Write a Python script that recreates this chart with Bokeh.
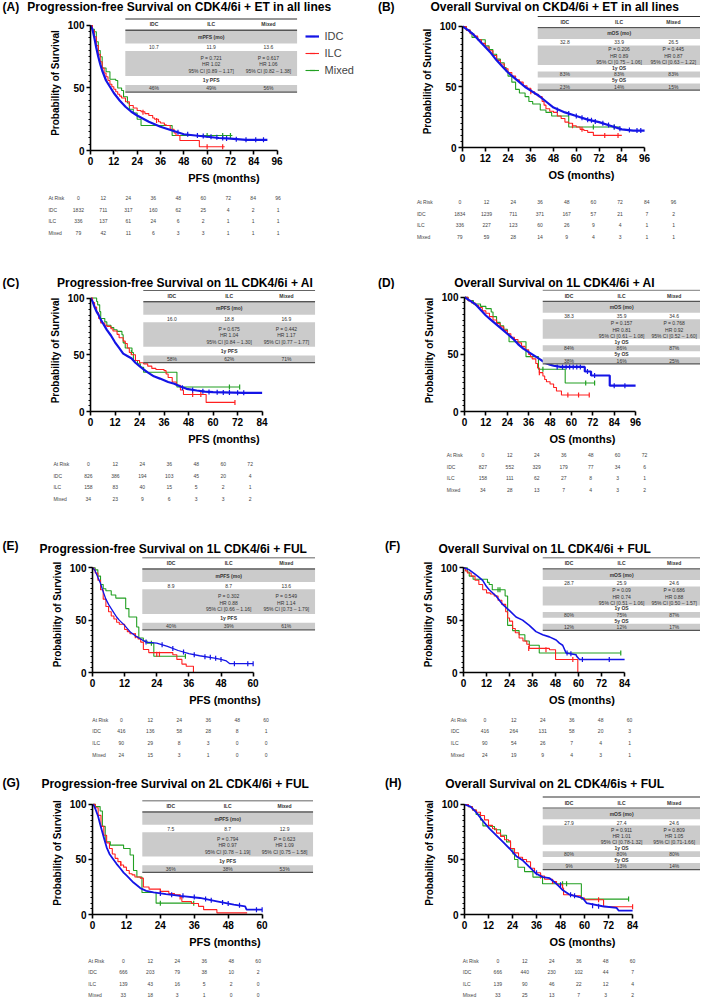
import math
from bokeh.plotting import figure
from bokeh.models import Range1d, Label, BoxAnnotation, Legend, LegendItem, FixedTicker
from bokeh.layouts import column, row
from bokeh.embed import file_html
from bokeh.resources import INLINE

GROUPS = ["IDC", "ILC", "Mixed"]

# ---------------- Panel A ----------------
A_TITLE = "Progression-free Survival on CDK4/6i + ET in all lines"
A_XLABEL = "PFS (months)"
A_XTICKS = [0, 12, 24, 36, 48, 60, 72, 84, 96]
A_IDC = [(0,100),(1,97),(2,90),(3,82),(4,75),(5,69),(6,64),(8,56),(10,51),(12,46),(15,40),(18,35),(21,31),(24,28),(30,23),(36,19),(42,16),(48,13),(54,12),(60,11),(66,10),(72,9.5),(80,8.5),(91,8.5)]
A_ILC = [(0,100),(1,96),(2,91),(3,84),(4,77),(5,71),(6,66),(7,62),(8,59),(9,56),(10,53),(11,51),(12,49),(13,47),(14,45),(15,43.5),(16,42),(18,39),(20,36),(22,34),(24,32),(26,31),(28,29.5),(30,28),(32,26),(33,25),(35,23),(36,22),(38,20.5),(39,20),(41,17),(43,14),(44,12),(46,8),(56,3),(69,3)]
A_MIX = [(0,100),(1,97),(2,95),(3,87),(4,80),(5,75),(6,66),(8,63),(10,57),(13,56),(14,50),(16,48),(17,43),(19,38),(20,33),(22,30),(24,25),(26,20),(42,12),(73,12)]
A_IDC_CENS = [(45,14.5),(50,13),(55,12),(58,11.5),(62,11),(65,10.5),(68,10),(70,9.5),(75,9),(80,8.5),(85,8.5),(89,8.5)]
A_ILC_CENS = [(27,30.5),(34,24),(60,3),(68,3)]
A_MIX_CENS = [(60,12),(68,12),(72,12)]
A_HEAD = "mPFS (mo)"
A_MEDIANS = ["10.7", "11.9", "13.6"]
A_ILC_TEST = ["P = 0.721", "HR 1.02", "95% CI [0.89 \u2013 1.17]"]
A_MIX_TEST = ["P = 0.617", "HR 1.06", "95% CI [0.82 \u2013 1.38]"]
A_RATE_LABELS = ["1y PFS"]
A_RATES = [["46%", "49%", "56%"]]
A_RISK_T = [0, 12, 24, 36, 48, 60, 72, 84, 96]
A_RISK_IDC = [1832, 711, 317, 160, 62, 25, 4, 2, 1]
A_RISK_ILC = [336, 137, 61, 24, 6, 2, 1, 1, 1]
A_RISK_MIX = [79, 42, 11, 6, 3, 3, 1, 1, 1]

# ---------------- Panel B ----------------
B_TITLE = "Overall Survival on CKD4/6i + ET in all lines"
B_XLABEL = "OS (months)"
B_XTICKS = [0, 12, 24, 36, 48, 60, 72, 84, 96]
B_IDC = [(0,100),(3,97),(6,93),(9,88),(12,83),(15,78),(18,72),(21,67),(24,62),(27,58),(30,54),(33,50),(36,47),(40,43),(44,38),(48,33),(54,29),(60,26),(66,23),(72,21),(78,18),(84,15),(90,14),(96,14)]
B_ILC = [(0,100),(2,97),(4,94),(6,92),(8,89),(10,86),(12,83),(14,80),(16,76),(18,72),(20,69),(22,65),(24,62),(26,59),(28,56),(30,54),(32,51),(34,49),(36,46),(38,44),(40,42),(42,38),(43,35),(44,32),(46,30),(48,29),(50,26),(52,24),(54,21),(56,20),(58,18),(60,17),(62,15),(64,14),(66,12.5),(69,10),(84,10)]
B_MIX = [(0,100),(2,97),(4,95),(5,91),(8,89),(12,84),(14,81),(16,77),(18,73),(20,70),(22,66),(23,63),(24,59),(26,54),(28,48),(30,45),(33,42),(35,38),(37,36),(41,31),(44,29),(47,26),(56,17),(83,17)]
B_IDC_CENS = [(50,31),(56,28),(60,26),(63,24.5),(66,23),(68,22.5),(70,21.5),(74,20),(77,18.5),(80,17),(83,15.5),(88,14.5),(92,14),(94,14)]
B_ILC_CENS = [(36,46),(58,18),(63,15),(75,10),(82,10)]
B_MIX_CENS = [(69,17),(80,17)]
B_HEAD = "mOS (mo)"
B_MEDIANS = ["32.8", "33.9", "26.5"]
B_ILC_TEST = ["P = 0.206", "HR 0.89", "95% CI [0.75 \u2013 1.06]"]
B_MIX_TEST = ["P = 0.445", "HR 0.87", "95% CI [0.63 \u2013 1.22]"]
B_RATE_LABELS = ["1y OS", "5y OS"]
B_RATES = [["83%", "83%", "83%"], ["23%", "14%", "15%"]]
B_RISK_T = [0, 12, 24, 36, 48, 60, 72, 84, 96]
B_RISK_IDC = [1834, 1239, 711, 371, 167, 57, 21, 7, 2]
B_RISK_ILC = [336, 227, 123, 60, 26, 9, 4, 1, 1]
B_RISK_MIX = [79, 59, 28, 14, 9, 4, 3, 1, 1]

# ---------------- Panel C ----------------
C_TITLE = "Progression-free Survival on 1L CDK4/6i + AI"
C_XLABEL = "PFS (months)"
C_XTICKS = [0, 12, 24, 36, 48, 60, 72, 84]
C_IDC = [(0,100),(1,97),(2,92),(3,88),(4,85),(5,81),(6,78),(8,72),(10,67),(12,61),(14,56),(16,51),(18,49),(20,47),(22,43),(24,40),(26,37),(28,34.5),(31,31),(34,29),(38,26),(41,24.5),(44,22),(47,20),(52,18.5),(56,17.5),(60,17),(75,16.5),(84,16.5)]
C_ILC = [(0,100),(1,96),(2,92),(3,87),(4,82),(5,78),(7,76),(8,75),(10,73),(11,71),(13,68),(14,65),(16,62),(17,60),(18,56),(19,52),(20,50),(22,45),(24,43),(26,42),(28,40),(30,38),(32,37),(36,36),(37,33),(38,30),(40,26),(42,23),(44,19),(45.5,15),(56.6,8),(70.7,8)]
C_MIX = [(0,100),(3,97),(3.5,94),(4.5,88),(5,82),(7,79),(8,76),(10,74),(11.4,72),(13,70.6),(15.4,67.7),(16,60.5),(17,56),(20.3,52),(21,45),(23,42),(24.4,39),(26,34.6),(42.3,21.6),(73,21.6)]
C_IDC_CENS = [(45,21),(50,19),(55,17.8),(58,17.2),(62,17),(65,16.8),(68,16.7),(72,16.5),(75,16.5)]
C_ILC_CENS = [(50,15),(54,15),(70.7,8)]
C_MIX_CENS = [(20,52),(68,21.6),(73,21.6)]
C_HEAD = "mPFS (mo)"
C_MEDIANS = ["16.0", "18.8", "16.9"]
C_ILC_TEST = ["P = 0.675", "HR 1.04", "95% CI [0.84 \u2013 1.30]"]
C_MIX_TEST = ["P = 0.442", "HR 1.17", "95% CI [0.77 \u2013 1.77]"]
C_RATE_LABELS = ["1y PFS"]
C_RATES = [["58%", "62%", "71%"]]
C_RISK_T = [0, 12, 24, 36, 48, 60, 72]
C_RISK_IDC = [826, 386, 194, 103, 45, 20, 4]
C_RISK_ILC = [158, 83, 40, 15, 5, 2, 1]
C_RISK_MIX = [34, 23, 9, 6, 3, 3, 2]

# ---------------- Panel D ----------------
D_TITLE = "Overall Survival on 1L CDK4/6i + AI"
D_XLABEL = "OS (months)"
D_XTICKS = [0, 12, 24, 36, 48, 60, 72, 84, 96]
D_IDC = [(0,100),(3,97),(6,94),(9,89),(12,84),(15,80),(18,76),(21,72),(24,68),(27,64),(30,59),(33,55),(36,52),(38,50),(40,48),(42,46),(44,44),(46,42),(48,41),(50,40),(54,39),(67.5,39),(67.5,35),(71,35),(71,31.5),(81.5,31.5),(81.5,22.6),(96,22.6)]
D_ILC = [(0,100),(2,97),(4,95),(6,93),(8,91),(10,88),(12,86),(14,83),(16,80),(18,77),(20,74),(22,71),(24,68),(26,65),(28,63),(30,60),(32,57),(34,54),(36,50),(37,48),(38,46),(40,42),(41,38),(42,34),(44,31),(45,28),(46,26),(48,24),(50,21),(51.6,18),(54.4,14.4),(70,14.4)]
D_MIX = [(0,100),(2,97),(5,94),(9,92),(12,90),(15,87),(16,83),(18,78),(20,75),(22,72),(24,68),(25,61),(34.5,48),(41.5,37),(56.5,25),(73,25)]
D_IDC_CENS = [(52,39),(55,39),(57,39),(59,39),(61,39),(63,39),(65,39),(69,35),(73,31.5),(84,22.6),(90,22.6)]
D_ILC_CENS = [(42,34),(58,14.4),(64,14.4),(70,14.4)]
D_MIX_CENS = [(44,37),(68,25),(73,25)]
D_HEAD = "mOS (mo)"
D_MEDIANS = ["38.3", "35.9", "34.6"]
D_ILC_TEST = ["P = 0.157", "HR 0.81", "95% CI [0.61 \u2013 1.08]"]
D_MIX_TEST = ["P = 0.768", "HR 0.92", "95% CI [0.52 \u2013 1.60]"]
D_RATE_LABELS = ["1y OS", "5y OS"]
D_RATES = [["84%", "86%", "87%"], ["38%", "16%", "25%"]]
D_RISK_T = [0, 12, 24, 36, 48, 60, 72]
D_RISK_IDC = [827, 552, 329, 179, 77, 34, 6]
D_RISK_ILC = [158, 111, 62, 27, 8, 3, 1]
D_RISK_MIX = [34, 28, 13, 7, 4, 3, 2]

# ---------------- Panel E ----------------
E_TITLE = "Progression-free Survival on 1L CDK4/6i + FUL"
E_XLABEL = "PFS (months)"
E_XTICKS = [0, 12, 24, 36, 48, 60]
E_IDC = [(0,100),(0.5,99),(1,97),(2,91),(3,85),(4,77),(5,70),(6,65),(7,61),(8,57),(9,53),(10,50),(12,45),(14,39),(16,35),(18,32),(20,29),(24,28),(28,25),(32,21),(36,18),(40,16),(45,14),(48,12.5),(50,11),(51.3,8.4),(60,8.4)]
E_ILC = [(0,100),(0.5,98),(1,95),(2,88),(3,79),(4,70),(5,63),(6,58),(7,54),(8,51),(9,48),(10,46),(12,41),(13,39),(14,37),(16,34),(17,32),(18,29),(19,22),(21,19),(30,17),(31.5,12.5),(33.4,8),(35,6),(37.7,0)]
E_MIX = [(0,100),(1,98),(2,92),(3,84),(4,80),(5,78),(7,74),(8.7,71),(12.4,61),(13.6,53),(16.5,43.5),(17.3,33),(19,30),(20.4,28),(22.9,15.5),(34.7,15.5)]
E_IDC_CENS = [(20,29),(26,26.5),(30,23),(34,19.5),(38,17),(42,15),(44,14.5),(46,13.5),(48,12.5),(53,8.4),(58,8.4),(60,8.4)]
E_ILC_CENS = [(16,35),(24,17.5),(25,17.5)]
E_MIX_CENS = [(22,28),(34.7,15.5)]
E_HEAD = "mPFS (mo)"
E_MEDIANS = ["8.9", "8.7", "13.6"]
E_ILC_TEST = ["P = 0.302", "HR 0.88", "95% CI [0.66 \u2013 1.16]"]
E_MIX_TEST = ["P = 0.549", "HR 1.14", "95% CI [0.73 \u2013 1.79]"]
E_RATE_LABELS = ["1y PFS"]
E_RATES = [["40%", "39%", "61%"]]
E_RISK_T = [0, 12, 24, 36, 48, 60]
E_RISK_IDC = [416, 136, 58, 28, 8, 1]
E_RISK_ILC = [90, 29, 8, 3, 0, 0]
E_RISK_MIX = [24, 15, 3, 1, 0, 0]

# ---------------- Panel F ----------------
F_TITLE = "Overall Survival on 1L CDK4/6i + FUL"
F_XLABEL = "OS (months)"
F_XTICKS = [0, 12, 24, 36, 48, 60, 72, 84]
F_IDC = [(0,100),(3,98),(6,94),(8,91),(10,88),(12,82),(13.4,79),(17,73),(20.4,65),(24,59),(27.4,53),(30.8,50),(34.3,45),(37.8,39),(41.3,36),(44.8,34),(48.3,31),(50,28),(51.7,26),(53.5,18.6),(58.7,17),(59,15.5),(60.5,12.4),(84,12.4)]
F_ILC = [(0,100),(1,97),(2,95),(4,92),(6,88),(8,84),(10,79),(12,76),(14,75),(16,73),(18,69),(20,65),(22,58),(23,52),(24,49),(25.6,42),(27,38),(29,33),(31,30),(33,27),(34.3,23),(44.8,21.7),(48,12.4),(59.6,12.4),(59.6,0)]
F_MIX = [(0,100),(2,96),(3,92),(5,89),(12.5,86),(13.4,84),(15,79),(21.7,73),(23,45),(25.6,40),(29,36),(32,30),(34.3,26),(39.5,18.6),(82,18.6)]
F_IDC_CENS = [(54,18.6),(56,18),(62,12.4),(76,12.4)]
F_ILC_CENS = [(34,23),(43,21.7),(57,12.4)]
F_MIX_CENS = [(18,79),(19,79),(82,18.6)]
F_HEAD = "mOS (mo)"
F_MEDIANS = ["28.7", "25.9", "24.6"]
F_ILC_TEST = ["P = 0.09", "HR 0.74", "95% CI [0.51 \u2013 1.06]"]
F_MIX_TEST = ["P = 0.686", "HR 0.88", "95% CI [0.50 \u2013 1.57]"]
F_RATE_LABELS = ["1y OS", "5y OS"]
F_RATES = [["80%", "75%", "87%"], ["12%", "12%", "17%"]]
F_RISK_T = [0, 12, 24, 36, 48, 60]
F_RISK_IDC = [416, 264, 131, 58, 20, 3]
F_RISK_ILC = [90, 54, 26, 7, 4, 1]
F_RISK_MIX = [24, 19, 9, 4, 3, 1]

# ---------------- Panel G ----------------
G_TITLE = "Progression-free Survival on 2L CDK4/6i + FUL"
G_XLABEL = "PFS (months)"
G_XTICKS = [0, 12, 24, 36, 48, 60]
G_IDC = [(0,100),(0.5,99),(1,96),(2,89),(2.7,82),(4,70),(5,61),(6,55),(7.4,50),(8.5,46),(9.8,42),(11,38),(12.2,35),(14.5,29),(16.9,24),(19,21.5),(21.6,20),(26,18.5),(31,17),(38,15),(44,12),(50,9),(54,7.4),(54.5,4.4),(60,4.4)]
G_ILC = [(0,100),(1,97),(2,90),(3,80),(4,72),(5,65),(6,60),(7,55),(8,51),(9,48),(10,45),(11,43),(12,40),(13,37),(14,36),(15,34),(16.9,33),(18,25),(20,23),(24,21),(27,19),(29,18),(31,16),(31.6,11.8),(35,10),(37.5,7.4),(39.3,4.4),(44,1.5),(54.7,1.5)]
G_MIX = [(0,100),(1,98),(2.7,94),(3.5,80),(4.5,66),(6.3,63),(11,60),(13.3,54),(14.5,40),(15.7,34),(17.5,20),(22.5,10.3),(35.8,10.3)]
G_IDC_CENS = [(24,19),(28,18),(32,17),(36,16),(40,14),(42,13),(46,11),(48,10),(52,8.5),(58,4.4),(60,4.4)]
G_ILC_CENS = [(10,46),(24,21),(31,16)]
G_MIX_CENS = [(24,10.3),(35.8,10.3)]
G_HEAD = "mPFS (mo)"
G_MEDIANS = ["7.5", "8.7", "12.9"]
G_ILC_TEST = ["P = 0.794", "HR 0.97", "95% CI [0.78 \u2013 1.19]"]
G_MIX_TEST = ["P = 0.623", "HR 1.09", "95% CI [0.75 \u2013 1.58]"]
G_RATE_LABELS = ["1y PFS"]
G_RATES = [["36%", "38%", "53%"]]
G_RISK_T = [0, 12, 24, 36, 48, 60]
G_RISK_IDC = [666, 203, 79, 38, 10, 2]
G_RISK_ILC = [139, 43, 16, 5, 2, 0]
G_RISK_MIX = [33, 18, 3, 1, 0, 0]

# ---------------- Panel H ----------------
H_TITLE = "Overall Survival on 2L CDK4/6is + FUL"
H_XLABEL = "OS (months)"
H_XTICKS = [0, 12, 24, 36, 48, 60, 72, 84]
H_IDC = [(0,100),(3,98),(5.8,93),(9.2,85),(12.5,78),(15.9,72),(19.2,66),(22.5,60),(25.9,53),(29.2,49),(32.5,43),(35.9,37),(39.2,34),(42.5,33),(45.9,28),(49.2,22),(52.6,18),(56,16.5),(59,15),(61,10.4),(69,7.5),(76,6),(77,3.6),(84,3.6)]
H_ILC = [(0,100),(2,98),(4,95),(6,93),(8,90),(10,86),(12,81),(14,78),(16,74),(18,71),(20,68),(22,67),(23,60),(25,56),(27,52),(29,50),(31,48),(33,42),(35,38),(38,35),(40,32),(44,30),(46,27),(49,24),(49.5,18),(54,17),(58,15),(60,13.4),(69.5,7),(84,7)]
H_MIX = [(0,100),(2,98),(4,95),(5.8,91),(8,86),(9.2,80.6),(13,80),(15,77),(18,72),(21,66),(23,60),(24.2,55),(25,50),(26.7,43),(30,39),(34.2,34),(39,28),(58.4,14),(82,14)]
H_IDC_CENS = [(36,38),(48,27),(53,18),(55,17),(64,8),(67,7.5)]
H_ILC_CENS = [(38,35),(44,30),(67,13.4),(84,7)]
H_MIX_CENS = [(49,28),(51,28),(82,14)]
H_HEAD = "mOS (mo)"
H_MEDIANS = ["27.9", "27.4", "24.6"]
H_ILC_TEST = ["P = 0.911", "HR 1.01", "95% CI [0.78-1.32]"]
H_MIX_TEST = ["P = 0.809", "HR 1.05", "95% CI [0.71-1.66]"]
H_RATE_LABELS = ["1y OS", "5y OS"]
H_RATES = [["80%", "80%", "80%"], ["9%", "13%", "14%"]]
H_RISK_T = [0, 12, 24, 36, 48, 60]
H_RISK_IDC = [666, 440, 230, 102, 44, 7]
H_RISK_ILC = [139, 90, 46, 22, 12, 4]
H_RISK_MIX = [33, 25, 13, 7, 3, 2]

# ---------------- layout (reference pixel coordinates) ----------------
SX = 700 / 701
SY = 997 / 998
COL_EDGES = [0, 358, 701]
ROW_EDGES = [0, 268, 532, 772, 998]
# per row: bottom of title strip, bottom of survival plot (reference px)
ROW_SPLITS = [(15, 186), (289, 447), (557, 709), (792, 951)]

FONT = "Liberation Sans"
BLUE = "#1414e6"
RED = "#ff2020"
GREEN = "#22a022"

GEO = {
    "A": dict(col=0, row=0, yx=90, y100=25, y0=150, xe=277, tag_x=2, tag_y=7, tx=179, ty=7,
              tab=(125, 297, 18), risk=(198, 48, 78, 25.0), bw=2.2, legend=True),
    "B": dict(col=1, row=0, yx=463, y100=26, y0=147, xe=645, tag_x=378, tag_y=7, tx=555, ty=7,
              tab=(538, 701, 15.5), risk=(202, 417, 460, 26.75), bw=2.2),
    "C": dict(col=0, row=1, yx=90, y100=298, y0=413, xe=262, tag_x=2, tag_y=283, tx=185, ty=283,
              tab=(143, 315, 290), risk=(464, 53, 88, 27.0), bw=2.2),
    "D": dict(col=1, row=1, yx=465, y100=297, y0=411, xe=636, tag_x=378, tag_y=283, tx=555, ty=283,
              tab=(543, 701, 289.5), risk=(455, 447, 483, 27.0), bw=2.2),
    "E": dict(col=0, row=2, yx=92, y100=568, y0=675, xe=253, tag_x=2, tag_y=546, tx=173, ty=549,
              tab=(142, 315, 557.5), risk=(720, 92, 121, 29.0), bw=1.3),
    "F": dict(col=1, row=2, yx=464, y100=568, y0=675, xe=625, tag_x=385, tag_y=546, tx=545, ty=549,
              tab=(543, 701, 557.5), risk=(720, 451, 485, 29.0), bw=1.6),
    "G": dict(col=0, row=3, yx=92, y100=805, y0=918, xe=262, tag_x=2, tag_y=783, tx=175, ty=784,
              tab=(142, 313, 801), risk=(961, 88, 123, 27.0), bw=1.8),
    "H": dict(col=1, row=3, yx=465, y100=805, y0=917, xe=633, tag_x=385, tag_y=783, tx=555, ty=784,
              tab=(543, 701, 797), risk=(961, 463, 498, 27.0), bw=1.8),
}

g_ = globals()
PANELS = {}
for k in "ABCDEFGH":
    PANELS[k] = dict(
        title=g_[k + "_TITLE"], xlabel=g_[k + "_XLABEL"], xticks=g_[k + "_XTICKS"],
        curves=[(g_[k + "_IDC"], g_[k + "_IDC_CENS"]), (g_[k + "_ILC"], g_[k + "_ILC_CENS"]),
                (g_[k + "_MIX"], g_[k + "_MIX_CENS"])],
        head=g_[k + "_HEAD"], medians=g_[k + "_MEDIANS"], ilc_test=g_[k + "_ILC_TEST"],
        mix_test=g_[k + "_MIX_TEST"], rate_labels=g_[k + "_RATE_LABELS"], rates=g_[k + "_RATES"],
        risk=[("At Risk", g_[k + "_RISK_T"]), ("IDC", g_[k + "_RISK_IDC"]),
              ("ILC", g_[k + "_RISK_ILC"]), ("Mixed", g_[k + "_RISK_MIX"])],
    )

# table row templates (offsets from table top, reference px)
PFS_TPL = dict(head=6, rule=(11, 12.5), bands=[(12.5, 25), (32.5, 57.5), (66.5, 73.5)],
               headlab=18.5, med=29, tests=[39.5, 46, 52.5], ratelab=[62], rateval=[70], bottom=73.5)
OS_TPL = dict(head=6, rule=(11, 12.2), bands=[(12.2, 23), (29.5, 49), (55.5, 61.5), (67.5, 74)],
              headlab=17.5, med=26.5, tests=[33.5, 40, 46.5], ratelab=[52, 64.5], rateval=[58.5, 71], bottom=74)


def text_fig(W, H):
    """A blank figure whose frame is the whole figure, in pixel coordinates."""
    f = figure(width=W, height=H, x_range=Range1d(0, W), y_range=Range1d(-H, 0),
               x_axis_type=None, y_axis_type=None, output_backend="svg",
               toolbar_location=None, title=None, min_border=0, frame_align=False)
    f.min_border_left = 0
    f.min_border_right = 0
    f.min_border_top = 0
    f.min_border_bottom = 0
    f.outline_line_color = None
    f.background_fill_color = "white"
    f.border_fill_color = "white"
    return f


def add_text(p, x, y, s, size, bold=False, align="center", color="black", rname="default"):
    p.add_layout(Label(x=x, y=-y, x_range_name=rname, y_range_name=rname, text=s,
                       text_font=FONT, text_font_size="%spx" % size,
                       text_font_style="bold" if bold else "normal", text_align=align,
                       text_baseline="middle", text_color=color))


def make_panel(key):
    d = PANELS[key]
    g = GEO[key]
    c0 = round(COL_EDGES[g["col"]] * SX)
    c1 = round(COL_EDGES[g["col"] + 1] * SX)
    W = c1 - c0
    r0 = round(ROW_EDGES[g["row"]] * SY)
    r3 = round(ROW_EDGES[g["row"] + 1] * SY)
    r1 = round(ROW_SPLITS[g["row"]][0] * SY)
    r2 = round(ROW_SPLITS[g["row"]][1] * SY)

    def lx(x):
        return x * SX - c0

    # ---------- title strip ----------
    ps = text_fig(W, r1 - r0)
    add_text(ps, lx(g["tag_x"]), g["tag_y"] * SY - r0, "(%s)" % key, 12, bold=True, align="left")
    add_text(ps, lx(g["tx"]), g["ty"] * SY - r0, d["title"], 12, bold=True)

    # ---------- survival plot ----------
    H = r2 - r1

    def ly(y):
        return y * SY - r1

    L = round(lx(g["yx"]))
    B = round(ly(g["y0"]))
    T = ly(g["y100"])
    xmax = d["xticks"][-1]
    ppm = (lx(g["xe"]) - L) / xmax
    ppu = (B - T) / 100.0
    p = figure(width=W, height=H, x_range=Range1d(0, (W - L) / ppm), y_range=Range1d(0, B / ppu),
               output_backend="svg", toolbar_location=None, title=None, min_border=0,
               frame_align=False)
    p.min_border_left = L
    p.min_border_right = 0
    p.min_border_top = 0
    p.min_border_bottom = H - B
    p.outline_line_color = None
    p.grid.visible = False
    p.background_fill_color = "white"
    p.border_fill_color = "white"

    p.xaxis.bounds = (0, xmax)
    p.yaxis.bounds = (0, 100)
    p.xaxis.ticker = FixedTicker(ticks=d["xticks"])
    p.yaxis.ticker = FixedTicker(ticks=[0, 50, 100], minor_ticks=list(range(0, 101, 5)))
    p.xaxis.axis_label = d["xlabel"]
    p.yaxis.axis_label = "Probability of Survival"
    for ax in (p.xaxis[0], p.yaxis[0]):
        ax.axis_line_width = 1.6
        ax.axis_line_color = "black"
        ax.major_tick_line_width = 1.6
        ax.major_tick_out = 4
        ax.major_tick_in = 0
        ax.minor_tick_line_width = 1
        ax.minor_tick_out = 2
        ax.minor_tick_in = 0
        ax.major_label_text_font = FONT
        ax.major_label_text_font_style = "bold"
        ax.major_label_text_font_size = "10px"
        ax.major_label_text_color = "black"
        ax.major_label_standoff = 2
        ax.axis_label_text_font = FONT
        ax.axis_label_text_font_style = "bold"
        ax.axis_label_text_color = "black"
        ax.axis_label_standoff = 4
    p.xaxis.axis_label_text_font_size = "11px"
    p.yaxis.axis_label_text_font_size = "10px"

    colors = [BLUE, RED, GREEN]
    rend = [None, None, None]
    for i in (2, 1, 0):
        pts, cens = d["curves"][i]
        t = [a for a, b in pts]
        s = [b for a, b in pts]
        if i == 0:
            r = p.line(t, s, line_color=colors[i], line_width=g["bw"])
        else:
            r = p.step(t, s, mode="after", line_color=colors[i], line_width=1.1)
        c = p.scatter([a for a, b in cens], [b for a, b in cens], marker="dash", angle=math.pi / 2,
                      size=5, line_color=colors[i], line_width=1.2)
        rend[i] = [r, c]

    p.extra_x_ranges = {"px": Range1d(L, W)}
    p.extra_y_ranges = {"px": Range1d(-B, 0)}

    def text(x, y, s, size, bold=False, align="center", color="black"):
        add_text(p, lx(x), ly(y), s, size, bold, align, color, rname="px")

    def box(x0, x1, y0, y1, color):
        p.add_layout(BoxAnnotation(left=lx(x0), right=lx(x1), top=-ly(y0), bottom=-ly(y1),
                                   x_range_name="px", y_range_name="px", fill_color=color,
                                   fill_alpha=1, line_color=None, line_alpha=0))

    x0, x1, top = g["tab"]
    tpl = OS_TPL if len(d["rate_labels"]) == 2 else PFS_TPL
    w = x1 - x0
    cx = [x0 + w / 6.0, x0 + w / 2.0, x0 + 5 * w / 6.0]
    grey = "#cbcbcb"
    tc = "#333333"
    for (a, b) in tpl["bands"]:
        box(x0, x1, top + a, top + b, grey)
    box(x0, x1, top, top + 0.9, "#303030")
    box(x0, x1, top + tpl["rule"][0], top + tpl["rule"][1], "#555555")
    box(x0, x1, top + tpl["bottom"] - 0.4, top + tpl["bottom"] + 0.8, "#555555")
    for i, gname in enumerate(GROUPS):
        text(cx[i], top + tpl["head"], gname, 5, bold=True, color=tc)
        text(cx[i], top + tpl["med"], d["medians"][i], 5, color=tc)
    text(cx[1], top + tpl["headlab"], d["head"], 5, bold=True, color=tc)
    for k, yy in enumerate(tpl["tests"]):
        text(cx[1], top + yy, d["ilc_test"][k], 5, color=tc)
        text(cx[2], top + yy, d["mix_test"][k], 5, color=tc)
    for j, lab in enumerate(d["rate_labels"]):
        text(cx[1], top + tpl["ratelab"][j], lab, 5, bold=True, color=tc)
        for i in range(3):
            text(cx[i], top + tpl["rateval"][j], d["rates"][j][i], 5, color=tc)

    if g.get("legend"):
        items = [LegendItem(label=GROUPS[i], renderers=rend[i]) for i in range(3)]
        leg_top = ly(26)
        leg = Legend(items=items, location=(lx(305) - L, B - (leg_top + 51 * SY)),
                     label_text_font=FONT, label_text_font_size="11px", glyph_width=14,
                     glyph_height=14, label_height=14, label_standoff=6, spacing=3, padding=0,
                     margin=0, border_line_color=None, background_fill_alpha=0)
        p.add_layout(leg)

    # ---------- at-risk table ----------
    pr = text_fig(W, r3 - r2)
    ry0, rlx, rc0, rstep = g["risk"]
    for i, (lab, vals) in enumerate(d["risk"]):
        y = (ry0 + i * 11.6) * SY - r2
        add_text(pr, lx(rlx), y, lab, 5, align="left", color="#444444")
        for j, v in enumerate(vals):
            add_text(pr, lx(rc0 + j * rstep), y, str(v), 5, color="#444444")

    return column(ps, p, pr)


cols = {k: make_panel(k) for k in "ABCDEFGH"}
layout = column(row(cols["A"], cols["B"]), row(cols["C"], cols["D"]),
                row(cols["E"], cols["F"]), row(cols["G"], cols["H"]))

open("out.html", "w").write(file_html(layout, INLINE))
